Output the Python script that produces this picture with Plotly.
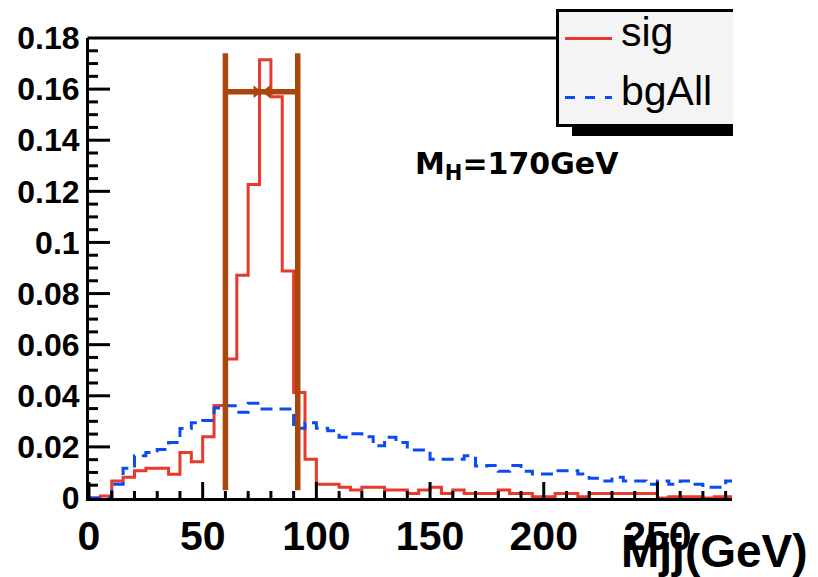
import plotly.graph_objects as go

# ---- histogram contents (normalised), 5 GeV bins starting at 0 ----
bin_width = 5.0
sig = [
    0.0, 0.0008, 0.0067, 0.0081, 0.0107, 0.0116, 0.0116, 0.0093, 0.0178, 0.0142,
    0.0240, 0.0362, 0.0544, 0.0872, 0.1227, 0.1715, 0.1570, 0.0888, 0.0413, 0.0152,
    0.0054, 0.0054, 0.0042, 0.0031, 0.0042, 0.0042, 0.0031, 0.0031, 0.0018, 0.0031,
    0.0042, 0.0018, 0.0031, 0.0018, 0.0018, 0.0018, 0.0031, 0.0018, 0.0018, 0.0005,
    0.0005, 0.0018, 0.0018, 0.0005, 0.0018, 0.0018, 0.0018, 0.0018, 0.0018, 0.0018,
    0.0, 0.0005, 0.0005, 0.0005, 0.0, 0.0005, 0.0005,
]
bg_all = [
    0.0, 0.0, 0.0054, 0.0116, 0.0165, 0.0178, 0.0190, 0.0217, 0.0272, 0.0294,
    0.0303, 0.0352, 0.0361, 0.0336, 0.0371, 0.0348, 0.0348, 0.0348, 0.0273, 0.0294,
    0.0273, 0.0263, 0.0238, 0.0251, 0.0240, 0.0204, 0.0238, 0.0217, 0.0188, 0.0188,
    0.0152, 0.0152, 0.0152, 0.0165, 0.0125, 0.0127, 0.0105, 0.0127, 0.0105, 0.0094,
    0.0094, 0.0107, 0.0107, 0.0094, 0.0077, 0.0067, 0.0081, 0.0067, 0.0067, 0.0054,
    0.0067, 0.0054, 0.0067, 0.0054, 0.0042, 0.0042, 0.0067,
]

# ---- mass window markers ----
window_lo = 60.0
window_hi = 91.8
window_ymin = 0.003
window_ymax = 0.174
arrow_y = 0.159
arrow_meet = 76.0

x_range = [0, 282.8]
y_range = [0, 0.18]
x_major, x_minor = 50, 10
y_major, y_minor = 0.02, 0.005

edges = [i * bin_width for i in range(len(sig) + 1)]

RED = "#e8392b"
BLUE = "#0a4cf2"
BROWN = "#a8470c"

# ---- canvas geometry (pixels) ----
W, H = 818, 577
ML, MR, MT, MB = 89, 86, 38, 79
PX_PER_X = (W - ML - MR) / (x_range[1] - x_range[0])
PX_PER_Y = (H - MT - MB) / (y_range[1] - y_range[0])


def xp(p):
    return (p - ML) / (W - ML - MR)


def yp(p):
    return (H - MB - p) / (H - MT - MB)


fig = go.Figure()

fig.add_trace(go.Scatter(
    x=edges, y=list(sig) + [sig[-1]], mode="lines", line_shape="hv",
    line=dict(color=RED, width=3), name="sig", showlegend=False,
))
fig.add_trace(go.Scatter(
    x=edges, y=list(bg_all) + [bg_all[-1]], mode="lines", line_shape="hv",
    line=dict(color=BLUE, width=3, dash="12px,7px"), name="bgAll", showlegend=False,
))
fig.add_trace(go.Scatter(
    x=[window_lo, window_lo, None, window_hi, window_hi, None, window_lo, window_hi],
    y=[window_ymin, window_ymax, None, window_ymin, window_ymax, None, arrow_y, arrow_y],
    mode="lines", line=dict(color=BROWN, width=5.5), showlegend=False,
    hoverinfo="skip",
))
# arrow heads meeting in the middle of the window
head_half = 5.5 / PX_PER_X
fig.add_trace(go.Scatter(
    x=[arrow_meet - head_half, arrow_meet + head_half], y=[arrow_y, arrow_y],
    mode="markers", showlegend=False, hoverinfo="skip",
    marker=dict(symbol=["triangle-right", "triangle-left"], size=11, color=BROWN,
                line=dict(width=0)),
))

# ROOT-style inward tick marks (major and minor), drawn as one line trace
tick_x, tick_y = [], []
n_xminor = int(x_range[1] // x_minor)
for i in range(n_xminor + 1):
    v = i * x_minor
    length_px = 16 if v % x_major == 0 else 7
    tick_x += [v, v, None]
    tick_y += [y_range[0], y_range[0] + length_px / PX_PER_Y, None]
n_yminor = int(round(y_range[1] / y_minor))
ratio = int(round(y_major / y_minor))
for i in range(1, n_yminor):
    v = i * y_minor
    length_px = 21 if i % ratio == 0 else 9
    tick_x += [x_range[0], x_range[0] + length_px / PX_PER_X, None]
    tick_y += [v, v, None]
fig.add_trace(go.Scatter(
    x=tick_x, y=tick_y, mode="lines", line=dict(color="black", width=3),
    showlegend=False, hoverinfo="skip",
))

shapes = [
    # top frame line
    dict(type="line", xref="paper", yref="paper", x0=xp(87.5), x1=xp(733),
         y0=1, y1=1, line=dict(color="black", width=3), layer="above"),
    # legend drawn by hand (box is open on the right)
    dict(type="rect", xref="paper", yref="paper", x0=xp(572), x1=xp(733),
         y0=yp(136), y1=yp(118), fillcolor="black", line=dict(width=0), layer="above"),
    dict(type="rect", xref="paper", yref="paper", x0=xp(557), x1=xp(733),
         y0=yp(126), y1=yp(10), fillcolor="#f4f4f4", line=dict(width=0), layer="above"),
    dict(type="line", xref="paper", yref="paper", x0=xp(557), x1=xp(733),
         y0=yp(10.5), y1=yp(10.5), line=dict(color="black", width=3), layer="above"),
    dict(type="line", xref="paper", yref="paper", x0=xp(557), x1=xp(733),
         y0=yp(125.5), y1=yp(125.5), line=dict(color="black", width=3), layer="above"),
    dict(type="line", xref="paper", yref="paper", x0=xp(557.5), x1=xp(557.5),
         y0=yp(9), y1=yp(127), line=dict(color="black", width=3), layer="above"),
    dict(type="line", xref="paper", yref="paper", x0=xp(565), x1=xp(612),
         y0=yp(38.5), y1=yp(38.5), line=dict(color=RED, width=3), layer="above"),
    dict(type="line", xref="paper", yref="paper", x0=xp(565), x1=xp(612),
         y0=yp(97.5), y1=yp(97.5), line=dict(color=BLUE, width=3, dash="10px,10px"),
         layer="above"),
]

annotations = [
    dict(text="sig", xref="paper", yref="paper", x=xp(619), y=yp(32),
         xanchor="left", yanchor="middle", showarrow=False,
         font=dict(family="Liberation Sans", size=41, color="black")),
    dict(text="bgAll", xref="paper", yref="paper", x=xp(619), y=yp(91),
         xanchor="left", yanchor="middle", showarrow=False,
         font=dict(family="Liberation Sans", size=41, color="black")),
    dict(text="<b>M<sub>H</sub>=170GeV</b>", xref="paper", yref="paper",
         x=xp(413), y=yp(166), xanchor="left", yanchor="middle", showarrow=False,
         font=dict(family="DejaVu Sans", size=30, color="black")),
    dict(text="<b>Mjj(GeV)</b>", xref="paper", yref="paper",
         x=xp(810), y=yp(551), xanchor="right", yanchor="middle", showarrow=False,
         font=dict(family="Liberation Sans", size=46, color="black")),
]

fig.update_layout(
    width=W, height=H,
    margin=dict(l=ML, r=MR, t=MT, b=MB),
    plot_bgcolor="white",
    showlegend=False,
    shapes=shapes, annotations=annotations,
    xaxis=dict(
        range=x_range, tick0=0, dtick=x_major, ticks="",
        showline=True, linecolor="black", linewidth=3, showgrid=False,
        zeroline=False,
        tickfont=dict(family="Liberation Sans", size=41, color="black", weight="bold"),
    ),
    yaxis=dict(
        range=y_range, tick0=0, dtick=y_major, ticks="",
        showline=True, linecolor="black", linewidth=3, showgrid=False,
        zeroline=False,
        tickfont=dict(family="Liberation Sans", size=32, color="black", weight="bold"),
    ),
)

fig.write_html("out.html")
